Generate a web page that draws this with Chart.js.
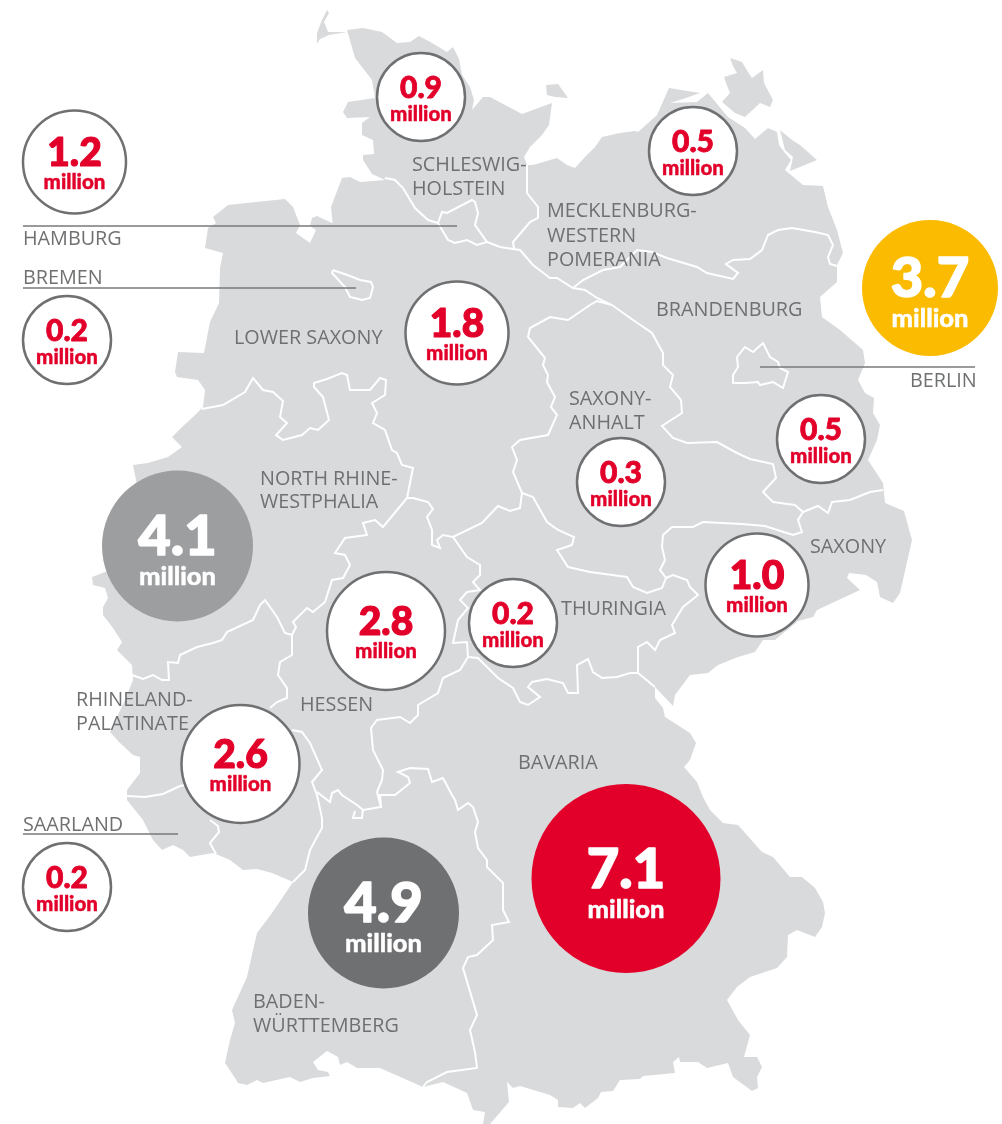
<!DOCTYPE html>
<html>
<head>
<meta charset="utf-8">
<style>
  html, body { margin: 0; padding: 0; background: #fff; }
  canvas { display: block; }
</style>
<script src="https://cdn.jsdelivr.net/npm/chart.js@4/dist/chart.umd.js"></script>
</head>
<body>
<canvas id="chart" width="1002" height="1124"></canvas>
<script>
// bubbles, one per state
const states = ["Schleswig-Holstein", "Mecklenburg-Western Pomerania", "Hamburg", "Bremen", "Lower Saxony", "Berlin", "Brandenburg", "Saxony-Anhalt", "Saxony", "North Rhine-Westphalia", "Hessen", "Thuringia", "Rhineland-Palatinate", "Saarland", "Baden-Württemberg", "Bavaria"];
const millions = [0.9, 0.5, 1.2, 0.2, 1.8, 3.7, 0.5, 0.3, 1.0, 4.1, 2.8, 0.2, 2.6, 0.2, 4.9, 7.1];
const bubbleX = [421, 693, 74.5, 67, 457, 930, 821, 621, 757, 177.5, 386, 513, 240.5, 67, 383.5, 626];
const bubbleY = [97, 151, 162, 340, 333, 288, 439, 482, 585, 546, 631, 623, 764, 887, 913, 878.5];
const bubbleR = [44, 44, 51.5, 44, 51.5, 68, 44, 44, 51.5, 75.5, 59, 44, 59, 44, 75.5, 94.5];
const bubbleFill = ["#fff", "#fff", "#fff", "#fff", "#fff", "#fbbb00", "#fff", "#fff", "#fff", "#9d9ea0", "#fff", "#fff", "#fff", "#fff", "#6f7072", "#e2002a"];

// state name labels [line, x, baseline]
const nameLabels = [
  ["SCHLESWIG-", 412, 171], ["HOLSTEIN", 412, 195],
  ["MECKLENBURG-", 547, 217], ["WESTERN", 547, 242], ["POMERANIA", 547, 266],
  ["BRANDENBURG", 656, 316], ["LOWER SAXONY", 234, 344],
  ["NORTH RHINE-", 260, 485], ["WESTPHALIA", 260, 508],
  ["SAXONY-", 569, 405], ["ANHALT", 569, 429],
  ["THURINGIA", 561, 615], ["SAXONY", 810, 553],
  ["RHINELAND-", 76, 706], ["PALATINATE", 76, 730],
  ["HESSEN", 300, 711], ["BAVARIA", 518, 769],
  ["BADEN-", 253, 1008], ["WÜRTTEMBERG", 253, 1032],
  ["HAMBURG", 23, 245], ["BREMEN", 23, 284], ["SAARLAND", 23, 831], ["BERLIN", 910, 387]
];

// leader lines for the small states
const leaders = [
  [[23, 226], [457, 226]],
  [[23, 288], [356, 288]],
  [[760, 367], [975, 367]],
  [[23, 834], [178, 834]]
];

// map shapes
const mainland = [[347,30],[363,28],[382,32],[397,43],[410,42],[419,36],[432,43],[447,52],[453,47],[459,59],[462,75],[470,87],[474,100],[472,110],[483,97],[490,97],[522,114],[552,103],[549,125],[542,135],[530,147],[524,157],[527,165],[533,165],[557,158],[567,165],[575,168],[585,157],[595,147],[602,137],[620,133],[635,131],[638,132],[657,115],[669,88],[700,93],[683,99],[670,103],[697,102],[708,93],[718,105],[728,117],[745,128],[755,139],[768,128],[777,132],[779,145],[785,153],[791,160],[785,170],[803,185],[823,186],[828,207],[837,230],[843,253],[837,265],[837,282],[820,297],[822,317],[840,330],[863,350],[865,363],[858,380],[865,393],[874,398],[873,413],[880,425],[877,440],[868,460],[883,483],[885,503],[904,511],[912,540],[900,593],[893,603],[880,597],[877,582],[866,575],[849,573],[847,578],[860,590],[845,597],[817,610],[813,617],[798,621],[775,640],[763,640],[755,652],[738,657],[718,665],[708,673],[690,675],[675,695],[673,706],[655,687],[655,698],[663,708],[665,717],[690,733],[696,743],[690,760],[684,767],[697,782],[703,797],[710,810],[723,823],[738,825],[762,852],[773,857],[790,877],[802,877],[815,888],[823,902],[825,913],[822,927],[815,937],[797,930],[788,935],[787,957],[777,968],[750,977],[737,987],[727,1000],[738,1020],[750,1035],[744,1057],[757,1057],[762,1067],[757,1077],[758,1088],[752,1091],[733,1077],[728,1063],[707,1068],[698,1062],[680,1062],[679,1057],[673,1062],[675,1073],[643,1076],[640,1079],[620,1080],[613,1091],[601,1092],[598,1098],[585,1108],[580,1103],[573,1108],[558,1107],[558,1100],[550,1095],[520,1086],[513,1088],[507,1082],[509,1102],[490,1124],[483,1124],[485,1112],[473,1110],[467,1093],[443,1082],[423,1087],[380,1068],[357,1068],[347,1062],[340,1065],[338,1057],[327,1051],[313,1062],[318,1070],[328,1072],[330,1076],[313,1078],[300,1082],[290,1077],[263,1083],[257,1080],[247,1085],[238,1083],[235,1078],[225,1063],[230,1040],[235,1023],[232,1010],[247,977],[253,950],[257,933],[272,913],[293,882],[272,873],[257,869],[243,870],[230,860],[223,857],[213,853],[190,857],[183,850],[173,845],[162,850],[153,840],[143,820],[127,800],[127,790],[140,773],[140,757],[133,755],[120,743],[110,732],[125,700],[133,680],[132,665],[117,650],[122,642],[113,628],[103,615],[103,607],[108,598],[105,588],[93,585],[92,577],[105,572],[125,560],[140,500],[133,465],[148,463],[168,457],[182,447],[172,437],[182,427],[193,417],[203,407],[205,390],[198,380],[177,377],[175,372],[178,352],[204,353],[210,322],[219,303],[220,268],[223,253],[205,248],[208,228],[216,223],[213,217],[228,205],[285,199],[293,207],[300,225],[296,233],[310,243],[316,230],[310,226],[312,218],[317,216],[332,223],[342,220],[343,228],[338,232],[333,227],[331,207],[342,178],[350,177],[360,182],[385,180],[372,174],[363,160],[363,155],[374,154],[373,140],[362,135],[362,123],[370,117],[347,118],[343,112],[348,102],[375,98],[372,80],[355,58]];
const sylt = [[327,10],[329,13],[324,22],[328,32],[347,32],[329,35],[320,39],[317,44],[317,33],[322,20]];
const fehmarn = [[546,85],[558,84],[568,98],[555,97],[547,95]];
const ruegen = [[730,58],[742,62],[748,72],[752,78],[763,70],[764,83],[773,100],[770,107],[760,103],[745,117],[735,113],[722,102],[730,93],[726,83],[724,77],[737,73],[733,66]];
const usedom = [[780,130],[792,140],[800,145],[817,160],[790,171],[793,157],[785,150]];

// white state borders
const borders = [
  // lower elbe, hamburg outline
  [[385,178],[395,180],[403,188],[415,208],[428,220],[438,223],[442,212],[447,213],[472,200],[475,202],[478,213],[475,225],[487,242],[477,245],[467,240],[455,243],[448,240],[438,223]],
  [[527,165],[527,193],[538,207],[538,218],[530,222],[513,242],[514,248]],
  // elbe down to saxony-anhalt
  [[487,242],[500,247],[520,250],[533,265],[550,278],[557,278],[573,288],[585,290],[597,298],[612,305],[633,320],[652,333],[663,353],[663,365],[673,375],[670,387],[681,400],[682,413],[662,426],[673,438],[687,443],[717,442],[737,453],[750,459],[773,464],[776,478],[763,492],[773,502],[795,505],[803,512],[798,520],[802,532],[793,535],[765,526],[742,524],[703,522],[693,527],[672,527],[663,535],[662,547],[665,560],[660,570],[666,578],[662,588],[647,593],[633,587],[627,577],[590,572],[568,567],[557,550],[572,545],[574,537],[558,530],[547,522],[533,497],[522,493],[513,472],[517,460],[512,447],[520,440],[548,435],[557,415],[551,407],[555,397],[547,382],[548,375],[543,365],[545,358],[528,337],[530,328],[550,317],[568,320],[590,305],[597,301],[612,305]],
  // saxony / thuringia
  [[666,578],[673,575],[687,580],[690,587],[698,595],[683,607],[672,625],[675,633],[660,640],[655,650],[647,642],[638,647],[638,673],[655,687]],
  // brandenburg / saxony
  [[803,512],[818,506],[828,513],[832,502],[850,500],[870,492],[883,490]],
  // mecklenburg / brandenburg
  [[573,288],[583,280],[603,270],[620,267],[637,250],[652,252],[667,258],[697,267],[707,273],[733,279],[738,273],[726,264],[733,260],[750,259],[762,250],[768,235],[778,230],[792,228],[815,232],[828,235],[833,245],[828,257],[830,264],[837,266]],
  // berlin
  [[737,357],[745,347],[753,352],[763,343],[770,357],[778,362],[780,368],[788,372],[783,388],[773,382],[760,385],[758,382],[745,383],[733,383],[733,375],[738,367],[737,357]],
  // bremen
  [[333,270],[350,276],[360,280],[371,282],[373,287],[370,298],[362,300],[350,297],[345,287],[332,273],[333,270]],
  // lower saxony / thuringia
  [[522,493],[520,508],[510,511],[498,506],[482,523],[453,537],[443,535],[437,540],[440,548],[432,545],[432,530],[427,517],[433,509],[428,502],[413,498],[407,498],[413,468],[402,465],[397,453],[392,450],[385,430],[373,423],[377,413],[372,403],[385,395],[386,380],[380,378],[370,390],[350,390],[347,375],[342,373],[327,379],[314,383],[314,387],[323,397],[329,420],[318,430],[310,428],[302,435],[283,440],[276,435],[287,423],[280,417],[283,401],[273,392],[263,390],[253,378],[245,392],[223,405],[202,409]],
  // hessen / thuringia, down to bavaria
  [[453,537],[467,557],[480,565],[480,575],[473,582],[480,590],[467,592],[460,600],[468,608],[458,620],[453,643],[467,642],[468,657],[460,670],[443,678],[438,693],[418,705],[418,715],[410,723],[400,717],[377,720],[371,728],[373,750],[383,770],[382,780],[377,792],[381,807],[363,810],[357,805],[342,795],[338,790],[332,793],[330,802],[317,792]],
  [[355,811],[353,818],[362,818],[363,809]],
  // thuringia / bavaria
  [[468,657],[478,658],[498,678],[513,688],[520,702],[528,705],[540,697],[528,687],[532,682],[547,679],[563,683],[568,693],[578,693],[577,665],[588,659],[593,672],[602,678],[617,677],[630,673],[638,673]],
  // baden-württemberg / bavaria
  [[381,807],[380,795],[395,795],[410,783],[408,777],[398,772],[410,768],[428,769],[432,782],[443,778],[452,795],[455,800],[458,810],[468,803],[473,807],[478,822],[475,832],[478,848],[487,860],[487,867],[503,883],[503,910],[509,922],[492,925],[493,940],[477,955],[468,957],[463,968],[477,1015],[470,1030],[475,1052],[477,1068],[447,1072],[427,1082],[423,1087]],
  // rhine
  [[292,730],[302,732],[310,743],[322,770],[312,782],[317,795],[322,818],[322,828],[318,835],[310,850],[305,870],[293,882]],
  // saarland
  [[127,796],[145,797],[163,794],[180,786],[190,784]],
  [[210,820],[218,826],[219,832],[210,843],[216,854]],
  // hessen / rheinland-pfalz
  [[270,708],[277,702],[287,698],[287,688],[278,675],[280,662],[292,655],[292,635]],
  // hessen / nrw
  [[292,635],[296,627],[293,622],[307,608],[313,612],[325,602],[332,580],[343,578],[350,565],[345,555],[335,553],[345,538],[367,535],[363,523],[375,520],[383,527],[407,498]],
  // nrw / rheinland-pfalz
  [[292,635],[285,633],[277,617],[265,600],[260,605],[253,620],[227,632],[222,640],[213,643],[197,647],[180,655],[178,663],[168,662],[169,680],[162,680],[153,675],[143,679],[132,675]]
];

const landColor = "#d9dadc";
const landShapes = [mainland, sylt, fehmarn, ruegen, usedom];
const toPoints = (list) => list.map((p) => ({ x: p[0], y: p[1] }));

// fills the land polygons under everything else
const landPlugin = {
  id: "land",
  beforeDatasetsDraw(chart) {
    const { ctx, scales } = chart;
    ctx.save();
    ctx.fillStyle = landColor;
    landShapes.forEach((shape) => {
      ctx.beginPath();
      shape.forEach((p, i) => {
        const px = scales.x.getPixelForValue(p[0]);
        const py = scales.y.getPixelForValue(p[1]);
        if (i === 0) ctx.moveTo(px, py);
        else ctx.lineTo(px, py);
      });
      ctx.closePath();
      ctx.fill();
    });
    ctx.restore();
  },
};

// lato only has bold here, a thin stroke brings it up to the black weight
const heavyText = (ctx, text, x, y, weight) => {
  ctx.lineWidth = weight;
  ctx.lineJoin = "round";
  ctx.strokeStyle = ctx.fillStyle;
  ctx.strokeText(text, x, y);
  ctx.fillText(text, x, y);
};

const numberFont = "Lato";
const labelPlugin = {
  id: "labels",
  afterDatasetsDraw(chart) {
    const { ctx, scales } = chart;
    ctx.save();
    ctx.textBaseline = "alphabetic";
    // names
    ctx.textAlign = "left";
    ctx.fillStyle = "#6f7072";
    ctx.font = '400 19.8px "Open Sans"';
    nameLabels.forEach((l) => {
      ctx.fillText(l[0], scales.x.getPixelForValue(l[1]), scales.y.getPixelForValue(l[2]));
    });
    // values
    ctx.textAlign = "center";
    millions.forEach((v, i) => {
      const r = bubbleR[i];
      const big = r > 65;
      const small = r < 50;
      const cx = scales.x.getPixelForValue(bubbleX[i]);
      const cy = scales.y.getPixelForValue(bubbleY[i]);
      ctx.fillStyle = big ? "#fff" : "#e2002a";
      ctx.font = `900 ${big ? 56 : small ? 30 : 39}px "${numberFont}"`;
      heavyText(ctx, v.toFixed(1), cx, cy + (big ? 9 : small ? 1 : 4), big ? 1.6 : small ? 0.8 : 1.2);
      ctx.font = `900 ${big ? 25.5 : 20.5}px "${numberFont}"`;
      heavyText(ctx, "million", cx, cy + (big ? 39 : small ? 24 : 27), 0.4);
    });
    ctx.restore();
  },
};

const lineDefaults = { type: "line", pointRadius: 0, fill: false, tension: 0, clip: false };

new Chart(document.getElementById("chart"), {
  type: "bubble",
  plugins: [landPlugin, labelPlugin],
  data: {
    datasets: [
      {
        label: "Million",
        order: 0,
        clip: false,
        data: states.map((s, i) => ({ x: bubbleX[i], y: bubbleY[i], r: bubbleR[i] })),
        backgroundColor: bubbleFill,
        borderColor: "#6f7072",
        borderWidth: bubbleFill.map((c) => (c === "#fff" ? 2.5 : 0)),
      },
      ...leaders.map((l) => ({
        ...lineDefaults,
        order: 1,
        data: toPoints(l),
        borderColor: "#77787a",
        borderWidth: 1.5,
      })),
      ...borders.map((b) => ({
        ...lineDefaults,
        order: 2,
        data: toPoints(b),
        borderColor: "#fff",
        borderWidth: 2,
      })),
    ],
  },
  options: {
    responsive: false,
    animation: false,
    events: [],
    layout: { padding: 0, autoPadding: false },
    plugins: { legend: { display: false }, tooltip: { enabled: false }, title: { display: false } },
    scales: {
      x: { type: "linear", min: 0, max: 1002, display: false },
      y: { type: "linear", min: 0, max: 1124, reverse: true, display: false },
    },
  },
});
</script>
</body>
</html>
